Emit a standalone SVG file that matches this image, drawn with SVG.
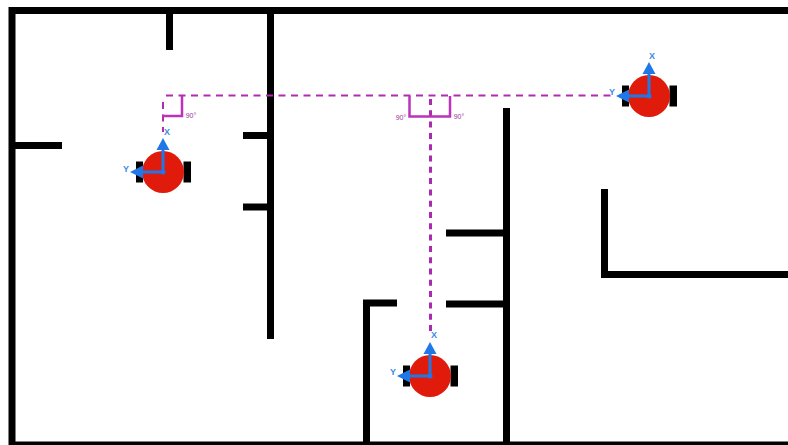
<svg xmlns="http://www.w3.org/2000/svg" width="788" height="445" viewBox="0 0 788 445">
<style>
.wall{fill:none;stroke:#000;stroke-width:7}
.dash{fill:none;stroke:#b02db0;stroke-width:2;stroke-dasharray:7 5.500}
.vdash{fill:none;stroke:#a92bb0;stroke-width:3;stroke-dasharray:6 5.300}
.bracket{fill:none;stroke:#bb33bb;stroke-width:2.500}
.deg{font-family:"Liberation Sans",sans-serif;font-size:7px;fill:#a02fa0;text-anchor:middle}
.ax{font-family:"Liberation Sans",sans-serif;font-size:9px;font-weight:bold;fill:#3b8ae6;text-anchor:middle}
.axis{fill:none;stroke:#1f78e6;stroke-width:3}
.head{fill:#1f78e6}
.body{fill:#e01b0c}
.wheel{fill:#000}
</style>
<defs>
<g id="robot">
<rect class="wheel" x="-27" y="-10.500" width="7" height="21"/>
<rect class="wheel" x="20.500" y="-10.500" width="7.500" height="21"/>
<circle class="body" r="21"/>
<path class="axis" d="M0 0V-24M0 0H-22"/>
<path class="head" d="M0 -34L6.500 -22H-6.500Z"/>
<path class="head" d="M-33 0L-20 -6.500V6.500Z"/>
<circle class="head" r="2.500"/>
</g>
</defs>
<rect width="788" height="445" fill="#fff"/>
<g id="walls">
<path class="wall" d="M788 10.500H12V445"/>
<path class="wall" d="M9 445H788"/>
<path class="wall" d="M169.500 10V50"/>
<path class="wall" d="M270.500 10V339"/>
<path class="wall" d="M12 145.500H62"/>
<path class="wall" d="M243 135.500H270"/>
<path class="wall" d="M243 207H270"/>
<path class="wall" d="M506.500 108V445"/>
<path class="wall" d="M446 233H506"/>
<path class="wall" d="M446 304H506"/>
<path class="wall" d="M397 303H366.500V445"/>
<path class="wall" d="M604.500 189V274.500H788"/>
</g>
<g id="connectors">
<path class="dash" d="M166 95.500H614"/>
<path class="dash" stroke-dasharray="6 6" d="M163 102V132"/>
<path class="vdash" d="M430.500 99V334"/>
<path class="bracket" d="M182 96V116H162"/>
<path class="bracket" d="M409.500 96V116.500H450V96"/>
</g>
<g id="angle-labels">
<text class="deg" x="191" y="118">90°</text>
<text class="deg" x="401" y="120">90°</text>
<text class="deg" x="459" y="119">90°</text>
</g>
<g id="robot-left">
<use href="#robot" x="163" y="172"/>
<text class="ax" x="167" y="135">X</text>
<text class="ax" x="126" y="172">Y</text>
</g>
<g id="robot-right">
<use href="#robot" x="649" y="96"/>
<text class="ax" x="652" y="59">X</text>
<text class="ax" x="612" y="95">Y</text>
</g>
<g id="robot-bottom">
<use href="#robot" x="430" y="376"/>
<text class="ax" x="434" y="338">X</text>
<text class="ax" x="393" y="375">Y</text>
</g>
</svg>
